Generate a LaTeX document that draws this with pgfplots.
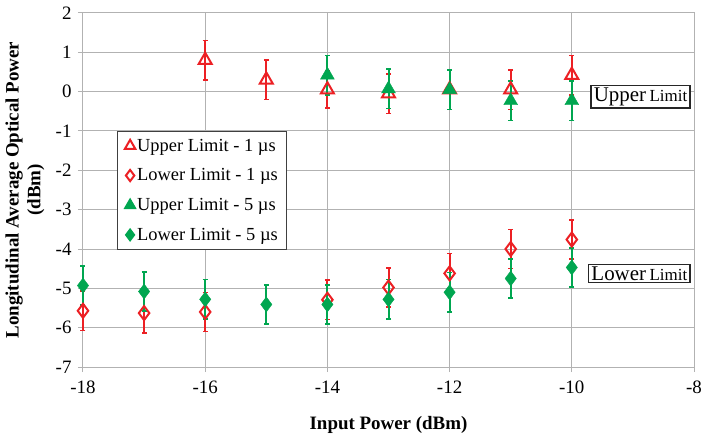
\documentclass[border=0pt]{standalone}
\usepackage{fontspec}
\setmainfont{Liberation Serif}
\usepackage{pgfplots}
\pgfplotsset{compat=1.18}
\usetikzlibrary{calc}
\definecolor{ured}{RGB}{236,32,36}
\definecolor{ugreen}{RGB}{0,166,80}
\definecolor{gridgray}{RGB}{178,178,178}

\begin{document}
\begin{tikzpicture}
\begin{axis}[
  width=611bp, height=354bp, scale only axis,
  xmin=-18, xmax=-8, ymin=-7, ymax=2,
  xtick={-18,-16,...,-8}, ytick={-7,-6,...,2},
  xticklabels={-18,-16,-14,-12,-10,-8},
  yticklabels={-7,-6,-5,-4,-3,-2,-1,0,1,2},
  ticklabel style={font=\fontsize{19}{21}\selectfont},
  xticklabel style={yshift=-5bp},
  yticklabel style={xshift=-3bp},
  xtick pos=bottom, ytick pos=left,
  tick align=outside, major tick length=5bp,
  tick style={gridgray, line width=1bp},
  axis line style={gridgray, line width=1bp},
  grid=major, grid style={gridgray, line width=1bp},
  xlabel={\textbf{Input Power (dBm)}},
  xlabel style={font=\fontsize{19}{21}\selectfont, at={(axis description cs:0.5,-0.165)}, anchor=center},
  ylabel={\textbf{Longitudinal Average Optical Power}\\\textbf{(dBm)}},
  ylabel style={font=\fontsize{19}{22}\selectfont, align=center, at={(axis description cs:-0.095,0.5)}, anchor=center},
  clip=false,
  legend cell align=left,
  legend style={at={(axis description cs:0.0556,0.667)}, anchor=north west,
    draw=black!75, line width=1.2bp, font=\fontsize{18.5}{20}\selectfont,
    row sep=13bp, inner xsep=7bp, inner ysep=6bp,
    nodes={inner sep=1.5bp}},
  legend image code/.code={\draw[#1,scale=0.8] plot coordinates {(0.25cm,0cm)};},
  error bars/y dir=both, error bars/y explicit,
]
% Upper limit, 1 us pulse
\addplot[only marks, color=ured, mark=triangle, mark size=7.5bp,
  mark options={line width=2bp},
  error bars/error bar style={line width=2bp, ured},
  error bars/error mark options={rotate=90, mark size=2.5bp, line width=1.5bp, ured}]
  coordinates {(-16,0.80) +- (0,0.5) (-15,0.30) +- (0,0.5) (-14,0.05) +- (0,0.47)
               (-13,-0.05) +- (0,0.5) (-12,0.05) +- (0,0.5) (-11,0.05) +- (0,0.5)
               (-10,0.42) +- (0,0.5)};
\addlegendentry{Upper Limit - 1 µs}
% Lower limit, 1 us pulse
\addplot[only marks, color=ured, mark=diamond, mark size=7bp,
  mark options={line width=2bp},
  error bars/error bar style={line width=2bp, ured},
  error bars/error mark options={rotate=90, mark size=2.5bp, line width=1.5bp, ured}]
  coordinates {(-18,-5.57) +- (0,0.5) (-17,-5.63) +- (0,0.5) (-16,-5.60) +- (0,0.5)
               (-14,-5.29) +- (0,0.5) (-13,-4.98) +- (0,0.5) (-12,-4.62) +- (0,0.5)
               (-11,-4.00) +- (0,0.5) (-10,-3.76) +- (0,0.5)};
\addlegendentry{Lower Limit - 1 µs}
% Upper limit, 5 us pulse
\addplot[only marks, color=ugreen, mark=triangle*, mark size=8bp,
  error bars/error bar style={line width=2bp, ugreen},
  error bars/error mark options={rotate=90, mark size=2.5bp, line width=1.5bp, ugreen}]
  coordinates {(-14,0.42) +- (0,0.5) (-13,0.07) +- (0,0.5) (-12,0.05) +- (0,0.5)
               (-11,-0.23) +- (0,0.5) (-10,-0.23) +- (0,0.5)};
\addlegendentry{Upper Limit - 5 µs}
% Lower limit, 5 us pulse
\addplot[only marks, color=ugreen, mark=diamond*, mark size=7.5bp,
  error bars/error bar style={line width=2bp, ugreen},
  error bars/error mark options={rotate=90, mark size=2.5bp, line width=1.5bp, ugreen}]
  coordinates {(-18,-4.93) +- (0,0.5) (-17,-5.08) +- (0,0.5) (-16,-5.28) +- (0,0.5)
               (-15,-5.41) +- (0,0.5) (-14,-5.41) +- (0,0.5) (-13,-5.28) +- (0,0.5)
               (-12,-5.10) +- (0,0.5) (-11,-4.75) +- (0,0.5) (-10,-4.47) +- (0,0.5)};
\addlegendentry{Lower Limit - 5 µs}

% limit tags
\node[draw=black!85, line width=1.5bp, fill=white, anchor=east, inner xsep=3bp, inner ysep=2bp]
  at (axis cs:-8.05,-0.13) {\fontsize{21}{22}\selectfont Upper\,\fontsize{17}{18}\selectfont Limit};
\node[draw=black!85, line width=1.5bp, fill=white, anchor=east, inner xsep=3bp, inner ysep=2bp]
  at (axis cs:-8.05,-4.62) {\fontsize{21}{22}\selectfont Lower\,\fontsize{17}{18}\selectfont Limit};

\coordinate (bl) at (rel axis cs:0,0);
\coordinate (tr) at (rel axis cs:1,1);
\end{axis}
\pgfresetboundingbox
\path[use as bounding box] ($(bl)+(-83bp,-71bp)$) rectangle ($(tr)+(9bp,13bp)$);
\end{tikzpicture}
\end{document}
